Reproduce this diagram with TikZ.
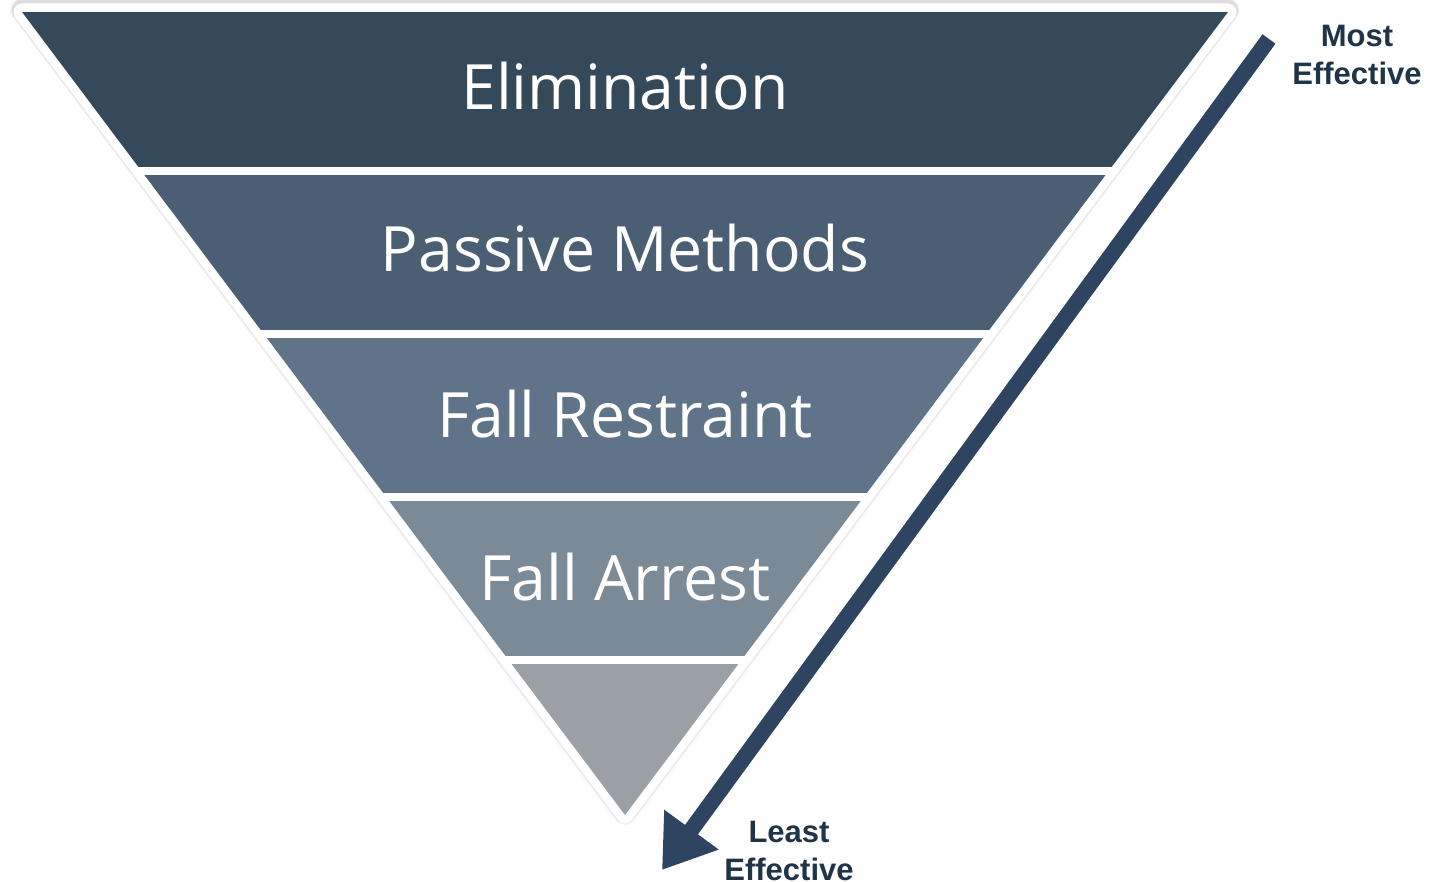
\documentclass[tikz,border=0pt]{standalone}
\usepackage{fontspec}
\setmainfont{Open Sans}
\newfontfamily\sidefont{Liberation Sans}
\usetikzlibrary{arrows.meta}

\definecolor{bandA}{HTML}{344A5A}
\definecolor{bandB}{HTML}{4A5F73}
\definecolor{bandC}{HTML}{5F7488}
\definecolor{bandD}{HTML}{7A8A97}
\definecolor{bandE}{HTML}{9BA0A7}
\definecolor{arrowblue}{HTML}{2E4561}
\definecolor{sidetext}{HTML}{1F3447}

\tikzset{
  bandlabel/.style={text=white, anchor=base, inner sep=0pt,
    font=\fontsize{62.5}{75}\selectfont},
  sidelabel/.style={text=sidetext, align=center, inner sep=0pt,
    font=\sidefont\bfseries\fontsize{31}{38}\selectfont},
  rim/.style={line width=#1, line join=round},
}

\begin{document}
\begin{tikzpicture}[x=1pt,y=-1pt]
    \useasboundingbox (0,0) rectangle (1439,882);

    % corners of the funnel
    \coordinate (TL) at (22,12);
    \coordinate (TR) at (1228,12);
    \coordinate (V)  at (625,815);

    % soft shadow and white rim
    \foreach \w/\o in {24pt/.08, 22pt/.12, 20pt/.18}
        \fill[black!40, opacity=\o, draw=black!40, rim=\w]
            ([yshift=2]TL) -- ([yshift=2]TR) -- ([yshift=2]V) -- cycle;
    \fill[white, draw=white, rim=17pt] (TL) -- (TR) -- (V) -- cycle;

    % the five bands
    \begin{scope}
        \clip (TL) -- (TR) -- (V) -- cycle;
        \foreach \c [count=\i from 0] in {bandA,bandB,bandC,bandD,bandE}
            \fill[\c] (0,{12+\i*163}) rectangle (1439,{12+\i*163+155});
    \end{scope}

    % band texts
    \node[bandlabel] (elim)    at (625,110) {Elimination};
    \node[bandlabel] (passive) at (625,272) {Passive Methods};
    \node[bandlabel] (restr)   at (625,437) {Fall Restraint};
    \node[bandlabel] (arrest)  at (625,600) {Fall Arrest};

    % effectiveness arrow
    \coordinate (top) at (1269,39);
    \coordinate (tip) at (662,870);
    \draw[arrowblue, line width=16pt, -{Triangle[length=50pt,width=64pt]}] (top) -- (tip);

    \node[sidelabel, anchor=north] (most)  at (1357,25) {Most\\Effective};
    \node[sidelabel, anchor=north] (least) at (789,821) {Least\\Effective};
\end{tikzpicture}
\end{document}
